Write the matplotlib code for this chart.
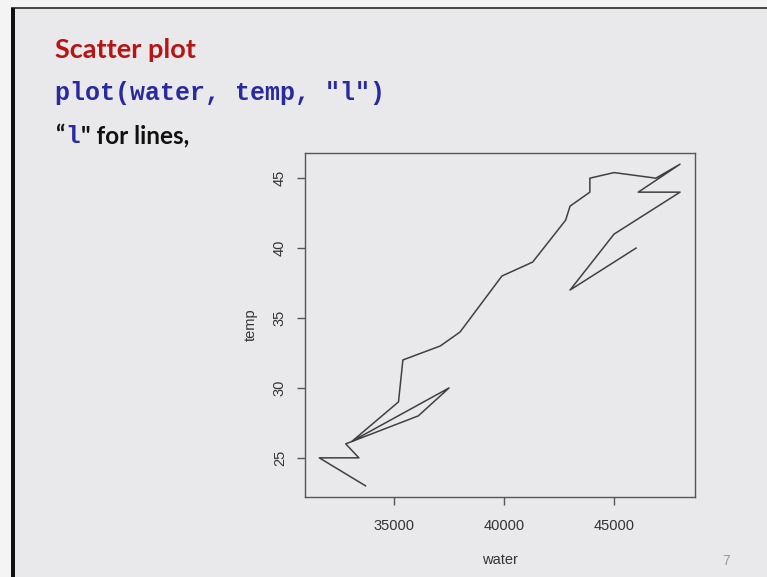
import matplotlib
matplotlib.use("Agg")
import matplotlib.pyplot as plt
from matplotlib.patches import Rectangle

# Data (in drawing order, R type="l")
water = [46000, 43000, 45000, 48000, 46100, 48000, 46900, 45000, 43900, 43900,
         43000, 42800, 41300, 39900, 38000, 37100, 35400, 35200, 33100, 37500,
         36100, 32800, 33400, 31600, 33700]
temp = [40, 37, 41, 44, 44, 46, 45, 45.4, 45, 44,
        43, 42, 39, 38, 34, 33, 32, 29, 26.2, 30,
        28, 26, 25, 25, 23]
xticks = [35000, 40000, 45000]
yticks = [25, 30, 35, 40, 45]

W, H = 767, 577
fig = plt.figure(figsize=(W / 100, H / 100), dpi=100)
bg = "#e9e9eb"
fig.patch.set_facecolor("#f4f4f4")

# slide background
fig.add_artist(Rectangle((15 / W, 0), 1, 1 - 8 / H, transform=fig.transFigure,
                         facecolor=bg, edgecolor="none", zorder=0))
# top dark line
fig.add_artist(Rectangle((11 / W, 1 - 9 / H), 1, 2 / H, transform=fig.transFigure,
                         facecolor="#4a4a4a", edgecolor="none", zorder=1))
# left black bar
fig.add_artist(Rectangle((11 / W, 0), 4 / W, 1 - 8 / H, transform=fig.transFigure,
                         facecolor="#111111", edgecolor="none", zorder=1))

# slide texts
fig.text(55 / W, 1 - 58 / H, "Scatter plot", color="#b81414", fontsize=19.5,
         fontweight="bold", family="Lato", va="baseline", ha="left")
fig.text(55 / W, 1 - 100 / H, 'plot(water, temp, "l")', color="#2a2aa0",
         fontsize=18, fontweight="bold", family="Liberation Mono",
         va="baseline", ha="left")

renderer = fig.canvas.get_renderer()
parts = [("\u201c", "#111111", "Lato", 17.5),
         ("l", "#2a2aa0", "Liberation Mono", 17.5),
         ("\" for lines,", "#111111", "Lato", 17.5)]
xpos = 55
for s, c, fam, fs in parts:
    t = fig.text(xpos / W, 1 - 143 / H, s, color=c, fontsize=fs,
                 fontweight="bold", family=fam, va="baseline", ha="left")
    bb = t.get_window_extent(renderer)
    xpos = bb.x1 + 1

fig.text(726 / W, 1 - 561 / H, "7", color="#999999", fontsize=10,
         family="Liberation Sans", va="center", ha="center")

# plot
ax = fig.add_axes([305 / W, 1 - 497 / H, 390 / W, 344 / H])
ax.set_facecolor(bg)
ax.plot(water, temp, color="#404040", lw=1.1)
ax.set_xlim(30950, 48680)
ax.set_ylim(22.2, 46.8)
ax.set_xticks(xticks)
ax.set_yticks(yticks)
for s in ax.spines.values():
    s.set_color("#555555")
    s.set_linewidth(1.0)
ax.tick_params(axis="both", length=6, width=1, color="#555555",
               labelcolor="#333333", labelsize=10.5)
ax.tick_params(axis="x", pad=9.5)
ax.tick_params(axis="y", pad=7)
for lab in ax.get_yticklabels():
    lab.set_rotation(90)
    lab.set_va("center")
for lab in ax.get_xticklabels() + ax.get_yticklabels():
    lab.set_family("Liberation Sans")
ax.set_xlabel("water", fontsize=10.5, color="#333333", family="Liberation Sans",
              labelpad=15)
ax.set_ylabel("temp", fontsize=10.5, color="#333333", family="Liberation Sans",
              labelpad=11)

fig.savefig("out.png", dpi=100, facecolor=fig.get_facecolor())
